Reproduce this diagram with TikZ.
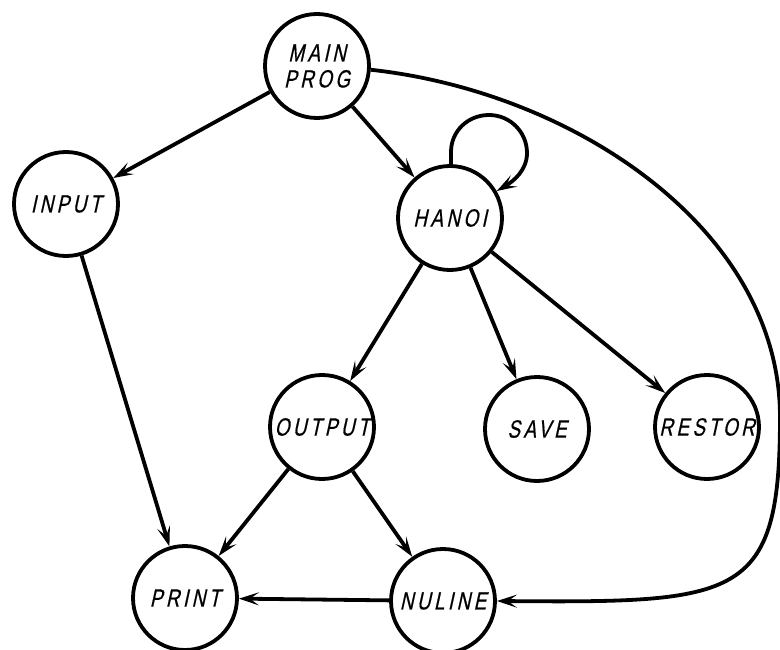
\documentclass[tikz,border=0pt]{standalone}
\usepackage{fontspec}
\newfontfamily\lbl[FakeSlant=0.22,FakeStretch=0.75,FakeBold=0.6,LetterSpace=14]{Liberation Sans}
\usetikzlibrary{arrows.meta}
\begin{document}
\begin{tikzpicture}[x=1pt,y=-1pt,
  proc/.style={circle,draw,line width=3.8pt,minimum size=104pt,inner sep=0pt,
    align=center,font=\lbl\fontsize{25}{26}\selectfont},
  arr/.style={line width=3.8pt,-{Stealth[length=20pt,width=13pt,inset=9pt]}}]
\useasboundingbox (0,0) rectangle (780,650);
\node[proc] (main) at (317,66) {MAIN\\PROG};
\node[proc] (input) at (66,204) {INPUT};
\node[proc] (hanoi) at (450,218) {HANOI};
\node[proc] (output) at (322,427) {OUTPUT};
\node[proc] (save) at (537,429) {SAVE};
\node[proc] (restor) at (707,427) {RESTOR};
\node[proc] (print) at (185,598) {PRINT};
\node[proc] (nuline) at (443,601) {NULINE};
\draw[arr] (main) -- (input);
\draw[arr] (main) -- (hanoi);
\draw[arr] (hanoi.89) -- (451,152)
  .. controls (451,131) and (468,115) .. (489,115)
  .. controls (510,115) and (527,132) .. (527,153)
  .. controls (527,170) and (514,181) .. (hanoi.30);
\draw[arr] (hanoi) -- (output);
\draw[arr] (hanoi) -- (save);
\draw[arr] (hanoi) -- (restor);
\draw[arr] (input) -- (print);
\draw[arr] (output) -- (print);
\draw[arr] (output) -- (nuline);
\draw[arr] (nuline) -- (print);
\draw[arr] (main.-4) .. controls (575,92) and (780,230) .. (780,417)
  .. controls (780,600) and (740,603) .. (nuline.east);
\end{tikzpicture}
\end{document}
